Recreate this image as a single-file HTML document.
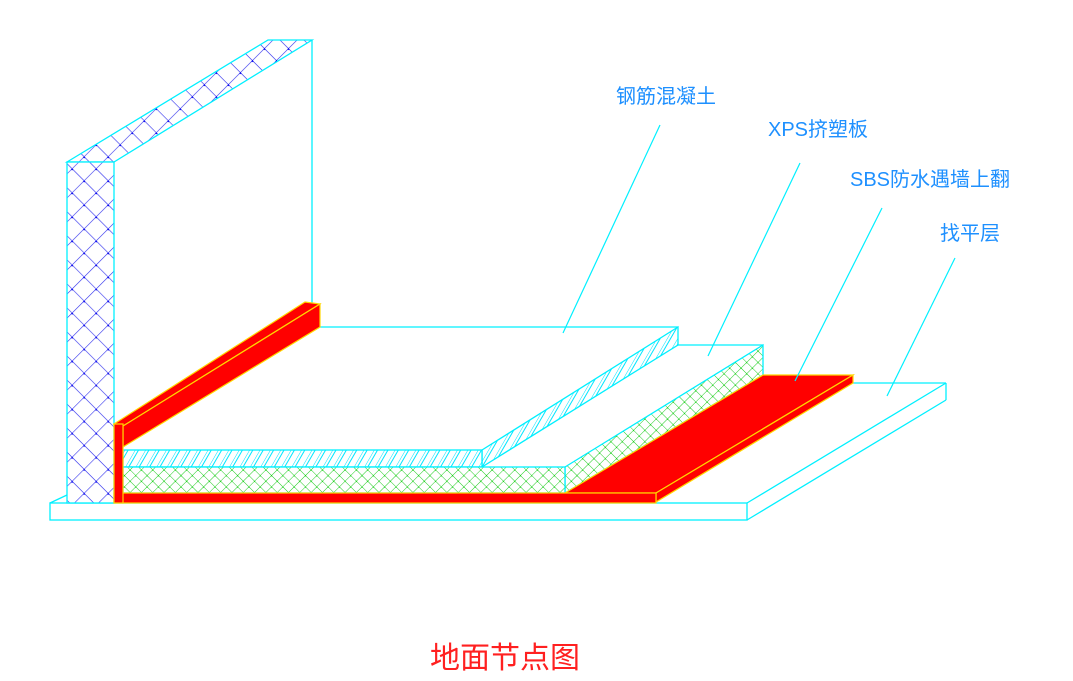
<!DOCTYPE html>
<html><head><meta charset="utf-8"><style>
html,body{margin:0;padding:0;background:#fff;}
svg{display:block}
text{font-family:"Liberation Sans","Noto Sans CJK SC",sans-serif;}
</style></head><body>
<svg width="1073" height="681" viewBox="0 0 1073 681" xmlns="http://www.w3.org/2000/svg">
<defs>
<pattern id="blue" width="17" height="17" patternUnits="userSpaceOnUse" patternTransform="rotate(45)">
<rect width="17" height="17" fill="#fff"/>
<path d="M0 0H17M0 0V17" stroke="#3333ee" stroke-width="1.2"/>
<circle cx="0" cy="0" r="1.8" fill="#0000ee"/>
</pattern>
<pattern id="green" width="8" height="8" patternUnits="userSpaceOnUse" patternTransform="rotate(45)">
<rect width="8" height="8" fill="#fff"/>
<path d="M0 0H8M0 0V8" stroke="#22cc22" stroke-width="1"/>
<circle cx="0" cy="0" r="1.2" fill="#00cc00"/>
</pattern>
<pattern id="hatch" width="9" height="9" patternUnits="userSpaceOnUse" patternTransform="rotate(30)">
<rect width="9" height="9" fill="#fff"/>
<path d="M0 0V9M3 0V9" stroke="#00e5ff" stroke-width="1"/>
</pattern>
</defs>
<g stroke="#00f0ff" stroke-width="1.3" fill="none">
<!-- base slab -->
<rect x="50" y="503" width="697" height="17"/>
<line x1="50" y1="503" x2="67" y2="495"/>
<line x1="747" y1="503" x2="946" y2="383"/>
<line x1="747" y1="520" x2="946" y2="400"/>
<line x1="946" y1="383" x2="946" y2="400"/>
<line x1="850" y1="383" x2="946" y2="383"/>
<!-- wall -->
<polygon points="67,162 268,40 312,40 114,162" fill="url(#blue)"/>
<rect x="67" y="162" width="47" height="341" fill="url(#blue)"/>
<line x1="312" y1="40" x2="312" y2="304"/>
<line x1="320" y1="327" x2="678" y2="327"/>
<!-- concrete -->
<polygon points="482,450 678,327 678,345 482,467" fill="url(#hatch)"/>
<rect x="123" y="450" width="359" height="17" fill="url(#hatch)"/>
<!-- XPS -->
<line x1="678" y1="345" x2="763" y2="345"/>
<polygon points="565,467 763,345 763,375 565,493" fill="url(#green)"/>
<rect x="123" y="467" width="442" height="26" fill="url(#green)"/>
</g>
<!-- red SBS -->
<g fill="#ff0000" stroke="#ffd700" stroke-width="1.2">
<polygon points="565,493 763,375 853,375 656,493"/>
<polygon points="656,493 853,375 853,383 656,502"/>
<rect x="114" y="493" width="542" height="10"/>
<polygon points="114,424 305,302 320,304 123,426"/>
<polygon points="123,426 320,304 320,327 123,447"/>
<rect x="114" y="424" width="9" height="79"/>
</g>
<!-- leaders -->
<g stroke="#00f0ff" stroke-width="1.2">
<line x1="660" y1="125" x2="563" y2="333"/>
<line x1="800" y1="163" x2="708" y2="356"/>
<line x1="882" y1="208" x2="795" y2="381"/>
<line x1="955" y1="258" x2="887" y2="396"/>
</g>
<g fill="#1e90ff" font-size="20">
<text x="616" y="103">钢筋混凝土</text>
<text x="768" y="136">XPS挤塑板</text>
<text x="850" y="186">SBS防水遇墙上翻</text>
<text x="940" y="240">找平层</text>
</g>
<text x="505" y="668" fill="#ff2020" font-size="30" text-anchor="middle" font-family="'Liberation Serif','Noto Serif CJK SC',serif">地面节点图</text>
</svg>
</body></html>
